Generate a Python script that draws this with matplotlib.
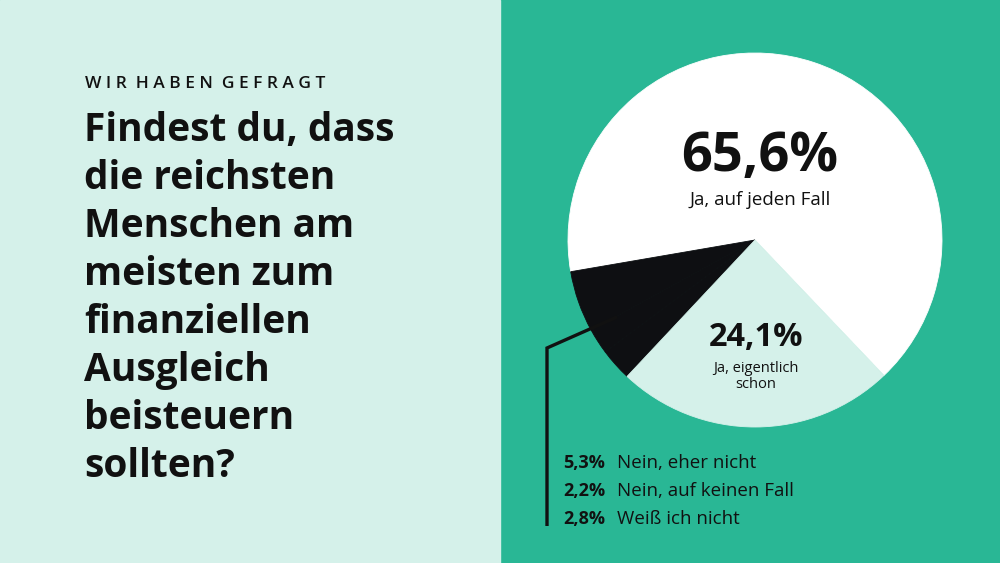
import matplotlib.pyplot as plt
from matplotlib.patches import Rectangle

plt.rcParams['font.family'] = ['Open Sans', 'DejaVu Sans']

# Umfragedaten
labels = ["Ja, auf jeden Fall", "Nein, eher nicht", "Nein, auf keinen Fall",
          "Weiß ich nicht", "Ja, eigentlich schon"]
values = [65.6, 5.3, 2.2, 2.8, 24.1]
wedge_colors = ["#FFFFFF", "#0E0F12", "#0E0F12", "#0E0F12", "#D5F1EA"]
value_text = ["65,6%", "5,3%", "2,2%", "2,8%", "24,1%"]

title_lines = ["Findest du, dass", "die reichsten", "Menschen am", "meisten zum",
               "finanziellen", "Ausgleich", "beisteuern", "sollten?"]

TEAL = "#29B795"
MINT = "#D5F1EA"
H = 563

fig = plt.figure(figsize=(10, 5.63), dpi=100, facecolor=TEAL)
ax = fig.add_axes([0, 0, 1, 1])

ax.add_patch(Rectangle((0, 0), 500, H, color=MINT, zorder=0))

wedges, _ = ax.pie(values, colors=wedge_colors, startangle=-46.4, counterclock=True,
                   center=(755, H - 240), radius=187, frame=True)
for w in wedges:
    w.set_edgecolor(w.get_facecolor())
    w.set_linewidth(0.6)

ax.set_xlim(0, 1000)
ax.set_ylim(0, H)
ax.set_aspect("auto")
ax.axis("off")

# linke Seite
ax.text(85, H - 84, "W I R  H A B E N  G E F R A G T",
        fontsize=12.5, fontweight="semibold",
        color="#111111", va="center", ha="left")
for i, line in enumerate(title_lines):
    ax.text(84, H - (131 + i * 47.9), line, fontsize=28, fontweight="bold",
            color="#111111", va="center", ha="left")

# Beschriftung im Kuchen
ax.text(760, H - 157, value_text[0], fontsize=39, fontweight="bold",
        color="#111111", va="center", ha="center")
ax.text(760, H - 200, labels[0], fontsize=13.5, color="#111111",
        va="center", ha="center")
ax.text(756, H - 338, value_text[4], fontsize=23.5, fontweight="bold",
        color="#111111", va="center", ha="center")
ax.text(756, H - 369, "Ja, eigentlich", fontsize=10.5, color="#111111",
        va="center", ha="center")
ax.text(756, H - 384, "schon", fontsize=10.5, color="#111111",
        va="center", ha="center")

# Führungslinie
ax.plot([617, 547, 547], [H - 317, H - 348, H - 526], color="#111111",
        linewidth=2.4, solid_capstyle="butt", solid_joinstyle="miter")

# Legende für die kleinen Anteile
for j, idx in enumerate([1, 2, 3]):
    y = H - (463 + j * 28)
    ax.text(563, y, value_text[idx], fontsize=13, fontweight="bold",
            color="#111111", va="center", ha="left")
    ax.text(617, y, labels[idx], fontsize=13.5, color="#111111",
            va="center", ha="left")

fig.savefig("out.png", dpi=100, facecolor=TEAL)
